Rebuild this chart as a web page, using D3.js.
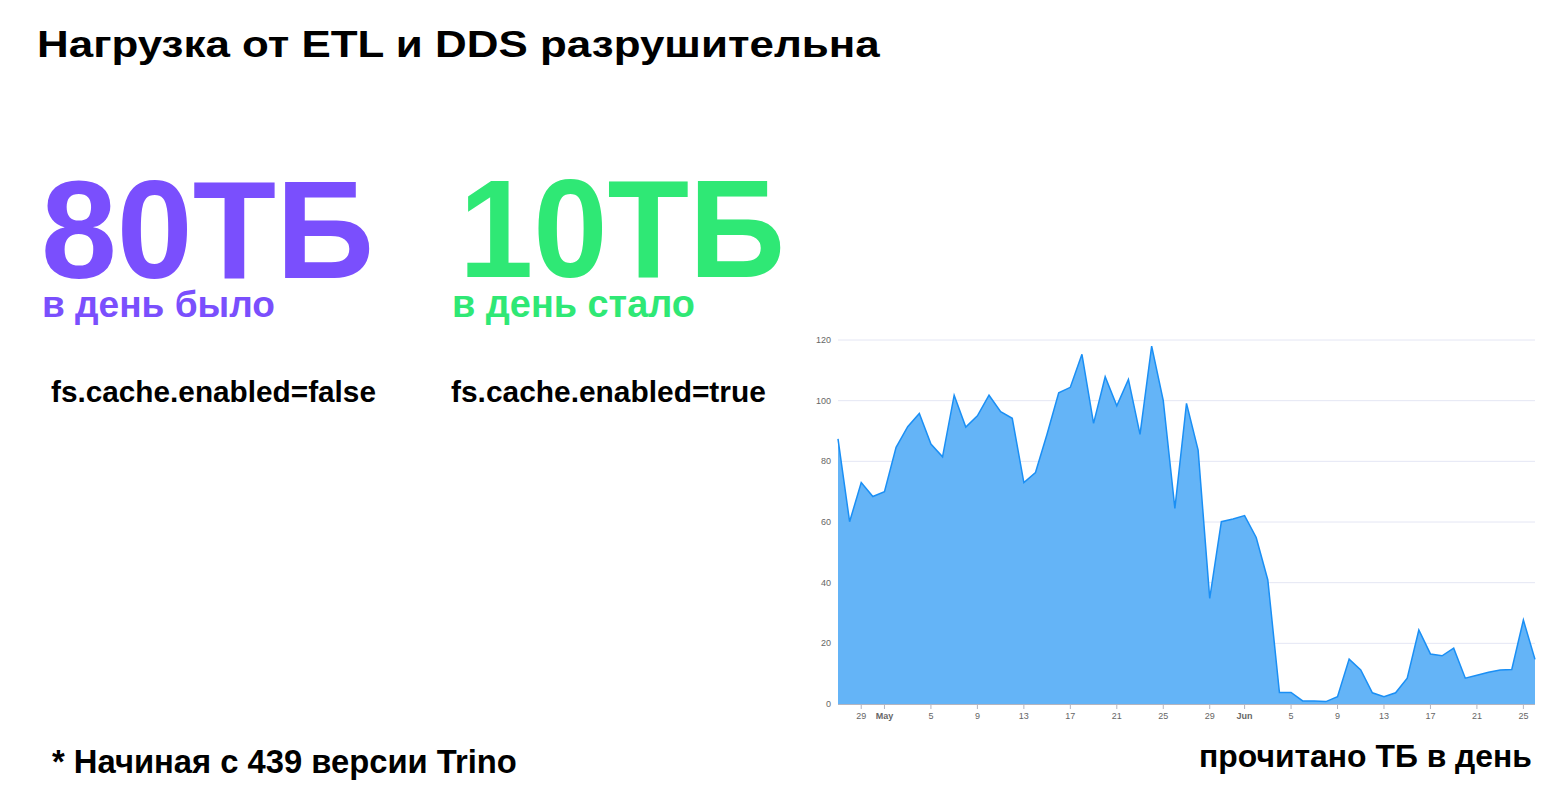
<!DOCTYPE html>
<html><head><meta charset="utf-8">
<script src="https://cdn.jsdelivr.net/npm/d3@7"></script>
<style>html,body{margin:0;padding:0;background:#fff;}svg{display:block;}</style>
</head><body>
<svg id="c" width="1560" height="792"></svg>
<script>
// ---- data ----
const startDate = "2024-04-27";
const readTB = [87.4,60.1,73,68.4,70,84.6,91.4,95.8,85.7,81.5,101.8,91.3,95,101.8,96.4,94.2,73,76.3,89,102.6,104.4,115.3,92.5,107.9,98.3,107,88.9,118,100,64.5,99.1,83.7,34.8,60.1,61,62.1,54.9,40.9,3.8,3.8,1,1,0.8,2.4,14.8,11.2,3.7,2.4,3.7,8.5,24.4,16.5,15.9,18.4,8.5,9.5,10.5,11.2,11.4,27.7,14.7];
const yTicks = [0,20,40,60,80,100,120];
const xTickDates = ["2024-04-29","2024-05-01","2024-05-05","2024-05-09","2024-05-13","2024-05-17","2024-05-21","2024-05-25","2024-05-29","2024-06-01","2024-06-05","2024-06-09","2024-06-13","2024-06-17","2024-06-21","2024-06-25"];
const texts = {
  title: "Нагрузка от ETL и DDS разрушительна",
  bigBefore: "80ТБ", subBefore: "в день было", cfgBefore: "fs.cache.enabled=false",
  bigAfter: "10ТБ", subAfter: "в день стало", cfgAfter: "fs.cache.enabled=true",
  note: "* Начиная с 439 версии Trino", caption: "прочитано ТБ в день"
};

const parse = d3.utcParse("%Y-%m-%d");
const t0 = parse(startDate);
const data = readTB.map((v,i)=>({date:d3.utcDay.offset(t0,i), v}));

const svg = d3.select("#c");
const FONT = "'Liberation Sans', Arial, Helvetica, sans-serif";
const PURPLE = "#7a4ffd", GREEN = "#2fe875";

// fit text width between x and x2; optional cap height target via vertical scale
function fitText(str, x, x2, y, color, cap){
  const t = svg.append("text").attr("x",0).attr("y",0).attr("fill",color)
    .attr("font-family",FONT).attr("font-weight","bold").attr("font-size",100).text(str);
  const w = t.node().getComputedTextLength();
  const f = 100*(x2-x)/w;
  t.attr("font-size", f);
  const sy = cap ? cap/(0.716*f) : 1;
  t.attr("transform", `translate(${x},${y}) scale(1,${sy})`);
  return t;
}
fitText(texts.title, 37, 880, 57, "#000", 26);
fitText(texts.bigBefore, 41, 374, 278, PURPLE, 100);
fitText(texts.subBefore, 42, 275, 317, PURPLE);
fitText(texts.cfgBefore, 51, 376, 402, "#000");
fitText(texts.bigAfter, 459, 785, 277, GREEN, 100);
fitText(texts.subAfter, 452, 695, 317, GREEN);
fitText(texts.cfgAfter, 451, 766, 402, "#000");
fitText(texts.note, 52, 517, 773, "#000");
fitText(texts.caption, 1199, 1532, 767, "#000");

// ---- chart ----
const x = d3.scaleUtc().domain(d3.extent(data,d=>d.date)).range([838,1535]);
const y = d3.scaleLinear().domain([0,120]).range([704,340]);

const g = svg.append("g");
g.selectAll("line.grid").data(yTicks.filter(d=>d>0)).join("line")
  .attr("x1",838).attr("x2",1535).attr("y1",d=>y(d)).attr("y2",d=>y(d))
  .attr("stroke","#e4e6f4").attr("stroke-width",1);
g.selectAll("text.yl").data(yTicks).join("text")
  .attr("x",831).attr("y",d=>y(d)+3).attr("text-anchor","end")
  .attr("font-family",FONT).attr("font-size",9).attr("fill","#666").text(d=>d);

const area = d3.area().x(d=>x(d.date)).y0(y(0)).y1(d=>y(d.v));
const line = d3.line().x(d=>x(d.date)).y(d=>y(d.v));
g.append("path").datum(data).attr("d",area).attr("fill","#64b4f7");
g.append("path").datum(data).attr("d",line).attr("fill","none").attr("stroke","#1a8ff5").attr("stroke-width",1.5).attr("stroke-linejoin","miter");

g.append("line").attr("x1",838).attr("x2",1535).attr("y1",y(0)+0.5).attr("y2",y(0)+0.5).attr("stroke","#b5b5c0");
const xt = xTickDates.map(parse);
g.selectAll("line.xt").data(xt).join("line")
  .attr("x1",d=>x(d)).attr("x2",d=>x(d)).attr("y1",705).attr("y2",709).attr("stroke","#b5b5c0");
const isMonth = d=>d.getUTCDate()===1;
g.selectAll("text.xl").data(xt).join("text")
  .attr("x",d=>x(d)).attr("y",719).attr("text-anchor","middle")
  .attr("font-family",FONT).attr("font-size",9).attr("fill","#666")
  .attr("font-weight",d=>isMonth(d)?"bold":"normal")
  .text(d=>isMonth(d)?d3.utcFormat("%b")(d):d3.utcFormat("%-d")(d));
</script>
</body></html>
